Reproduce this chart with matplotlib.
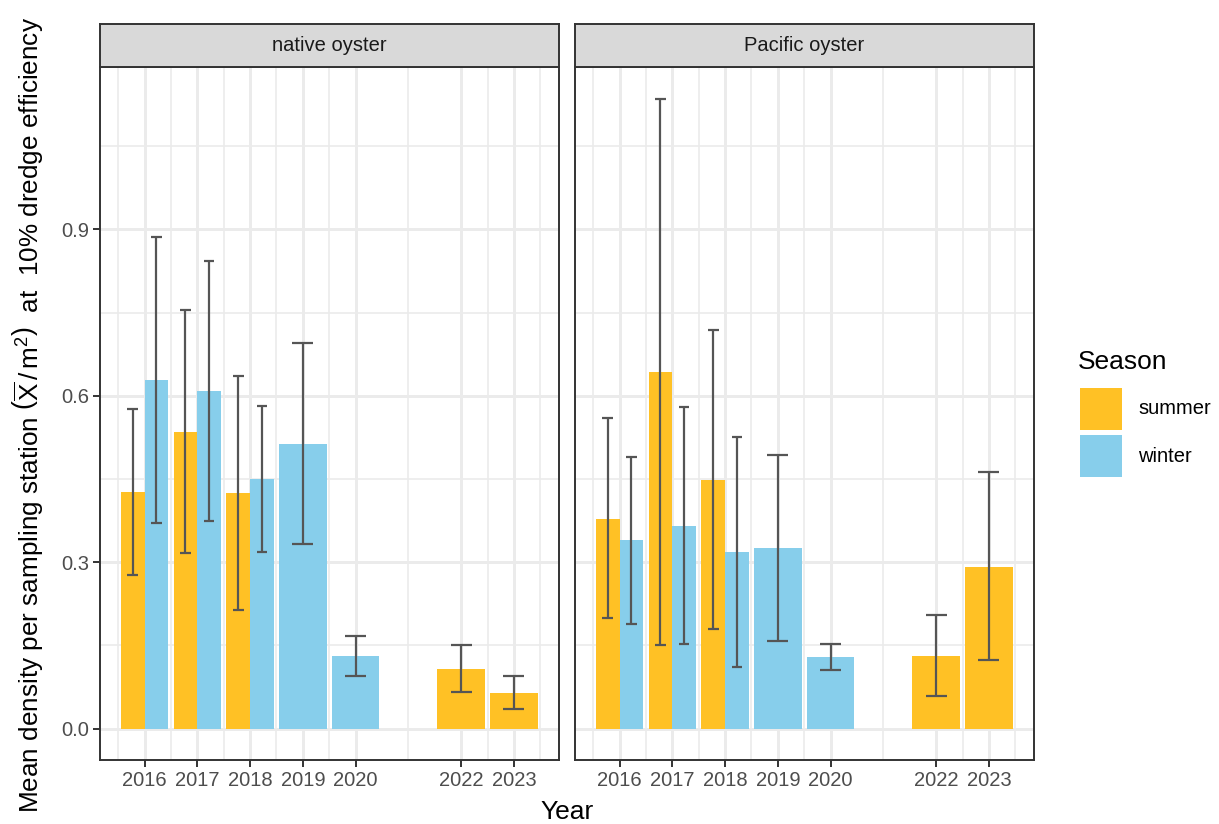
import numpy as np
import matplotlib
matplotlib.use("Agg")
import matplotlib.pyplot as plt
from matplotlib.patches import Rectangle

plt.rcParams['font.family'] = ['Liberation Sans', 'DejaVu Sans']
plt.rcParams['mathtext.fontset'] = 'custom'
plt.rcParams['mathtext.rm'] = 'Liberation Sans'
plt.rcParams['mathtext.it'] = 'Liberation Sans:italic'
plt.rcParams['mathtext.bf'] = 'Liberation Sans:bold'

nan = np.nan
years = [2016, 2017, 2018, 2019, 2020, 2022, 2023]
species = ["native oyster", "Pacific oyster"]
seasons = ["summer", "winter"]
season_colors = {"summer": "#FFC125", "winter": "#87CEEB"}

native_summer = [0.426, 0.535, 0.424, nan, nan, 0.108, 0.064]
native_summer_lo = [0.277, 0.316, 0.214, nan, nan, 0.066, 0.036]
native_summer_hi = [0.576, 0.754, 0.635, nan, nan, 0.151, 0.095]
native_winter = [0.629, 0.608, 0.450, 0.513, 0.130, nan, nan]
native_winter_lo = [0.371, 0.374, 0.318, 0.332, 0.095, nan, nan]
native_winter_hi = [0.886, 0.843, 0.581, 0.695, 0.167, nan, nan]

pacific_summer = [0.378, 0.643, 0.448, nan, nan, 0.131, 0.292]
pacific_summer_lo = [0.199, 0.151, 0.180, nan, nan, 0.059, 0.123]
pacific_summer_hi = [0.559, 1.136, 0.718, nan, nan, 0.204, 0.462]
pacific_winter = [0.339, 0.365, 0.318, 0.325, 0.129, nan, nan]
pacific_winter_lo = [0.189, 0.152, 0.111, 0.157, 0.105, nan, nan]
pacific_winter_hi = [0.489, 0.580, 0.525, 0.493, 0.152, nan, nan]

y_ticks = [0.0, 0.3, 0.6, 0.9]
y_tick_labels = ["0.0", "0.3", "0.6", "0.9"]

data = {
    "native oyster": {
        "summer": (native_summer, native_summer_lo, native_summer_hi),
        "winter": (native_winter, native_winter_lo, native_winter_hi),
    },
    "Pacific oyster": {
        "summer": (pacific_summer, pacific_summer_lo, pacific_summer_hi),
        "winter": (pacific_winter, pacific_winter_lo, pacific_winter_hi),
    },
}

W, H = 1219, 824
fig = plt.figure(figsize=(W / 100, H / 100), dpi=100)

def fx(px):
    return px / W

def fy(py):
    return 1 - py / H

panel_top, panel_bot = 67, 760
strip_top = 24
panel_lefts = [100, 575]
panel_w = 458.5

all_hi = [v for sp in data.values() for s in sp.values() for v in s[2] if not np.isnan(v)]
ymax_data = max(all_hi)
ylim = (-0.05 * ymax_data, ymax_data * 1.05)
xmin_d, xmax_d = years[0] - 0.45, years[-1] + 0.45
xr = xmax_d - xmin_d
xlim = (xmin_d - 0.05 * xr, xmax_d + 0.05 * xr)

minor_x = [years[0] - (years[1] - years[0]) / 2]
for a, b in zip(years[:-1], years[1:]):
    minor_x.append((a + b) / 2)
minor_x.append(years[-1] + (years[-1] - years[-2]) / 2)
minor_y = [0.15, 0.45, 0.75, 1.05]

grid_c = "#EBEBEB"
border_c = "#333333"
err_c = "#555555"
tick_fs = 14.5
err_lw = 1.6

for i, sp in enumerate(species):
    left = panel_lefts[i]
    ax = fig.add_axes([fx(left), fy(panel_bot), panel_w / W, (panel_bot - panel_top) / H])
    ax.set_xlim(xlim)
    ax.set_ylim(ylim)
    for x in minor_x:
        ax.axvline(x, color=grid_c, lw=1.2, zorder=0)
    for y in minor_y:
        ax.axhline(y, color=grid_c, lw=1.2, zorder=0)
    for x in years:
        ax.axvline(x, color=grid_c, lw=2.1, zorder=0)
    for y in y_ticks:
        ax.axhline(y, color=grid_c, lw=2.1, zorder=0)

    sdat = data[sp]
    for j, yr in enumerate(years):
        present = [s for s in seasons if not np.isnan(sdat[s][0][j])]
        n = len(present)
        bw = 0.9 / n
        for k, s in enumerate(present):
            xc = yr - 0.45 + bw * (k + 0.5)
            val, lo, hi = sdat[s][0][j], sdat[s][1][j], sdat[s][2][j]
            ax.bar(xc, val, width=bw, color=season_colors[s], edgecolor="none", zorder=2)
            cw = 0.4 / n
            ax.plot([xc, xc], [lo, hi], color=err_c, lw=err_lw, zorder=3, solid_capstyle="butt")
            ax.plot([xc - cw / 2, xc + cw / 2], [lo, lo], color=err_c, lw=err_lw, zorder=3, solid_capstyle="butt")
            ax.plot([xc - cw / 2, xc + cw / 2], [hi, hi], color=err_c, lw=err_lw, zorder=3, solid_capstyle="butt")

    ax.set_xticks(years)
    ax.set_xticklabels([str(y) for y in years])
    ax.set_yticks(y_ticks)
    ax.tick_params(axis="both", colors=border_c, labelcolor="#4D4D4D", labelsize=tick_fs,
                   length=5, width=1.4, pad=3)
    if i == 0:
        ax.set_yticklabels(y_tick_labels)
    else:
        ax.set_yticklabels([])
        ax.tick_params(axis="y", length=0)
    for spn in ax.spines.values():
        spn.set_color(border_c)
        spn.set_linewidth(1.4)
        spn.set_zorder(5)

    sax = fig.add_axes([fx(left), fy(panel_top), panel_w / W, (panel_top - strip_top) / H])
    sax.set_facecolor("#D9D9D9")
    sax.set_xticks([])
    sax.set_yticks([])
    for spn in sax.spines.values():
        spn.set_color(border_c)
        spn.set_linewidth(1.4)
    sax.text(0.5, 0.5, sp, ha="center", va="center", fontsize=tick_fs, color="#1A1A1A",
             transform=sax.transAxes)

fig.text(fx(567), fy(812), "Year", ha="center", va="center", fontsize=19, color="black")
fig.text(fx(28), fy(415),
         r"Mean density per sampling station $\left(\overline{\mathrm{X}}\,/\,\mathrm{m}^{2}\right)$  at  10% dredge efficiency",
         ha="center", va="center", rotation=90, fontsize=18.8, color="black")

fig.text(fx(1078), fy(362), "Season", ha="left", va="center", fontsize=19, color="black")
key_tops = [388, 435]
for s, kt in zip(seasons, key_tops):
    fig.patches.append(Rectangle((fx(1080), fy(kt + 42)), 42 / W, 42 / H,
                                 transform=fig.transFigure, facecolor=season_colors[s],
                                 edgecolor="none"))
    fig.text(fx(1138), fy(kt + 21), s, ha="left", va="center", fontsize=tick_fs, color="black")

fig.savefig("out.png", dpi=100, facecolor="white")
